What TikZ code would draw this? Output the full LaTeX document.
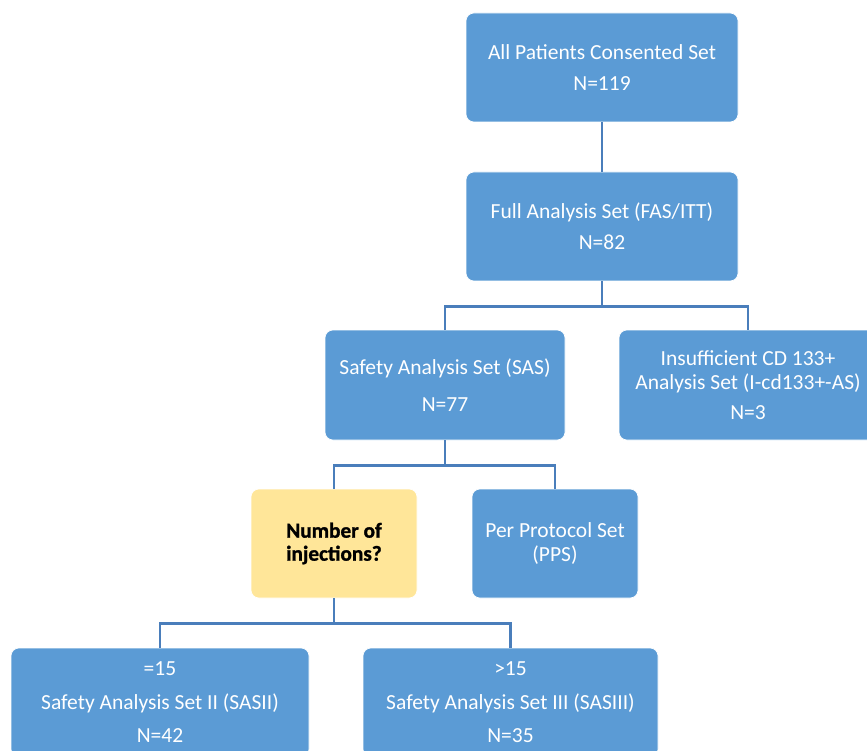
\documentclass[tikz,border=0pt]{standalone}
\usepackage{fontspec}
\setmainfont{Carlito}
\newfontfamily\heavyfont{Carlito}[UprightFont=*-Bold, FakeBold=1.2]
\definecolor{boxblue}{HTML}{5B9BD5}
\definecolor{boxyellow}{HTML}{FFE699}
\definecolor{linkblue}{HTML}{4A7EBB}
\begin{document}
\begin{tikzpicture}[x=1pt,y=-1pt,
  setbox/.style={rounded corners=8pt, fill=boxblue, draw=white, line width=0.6pt,
    text=white, align=center, inner sep=0pt, font=\fontsize{21.5}{24}\selectfont},
  askbox/.style={setbox, fill=boxyellow, text=black, font=\heavyfont\fontsize{21.3}{23}\selectfont},
  link/.style={draw=linkblue, line width=2.4pt}]
\useasboundingbox (0,0) rectangle (867,751);
\clip (0,0) rectangle (867,751);
\node[setbox, minimum width=272pt, minimum height=109pt] (A) at (602,67.5)
  {All Patients Consented Set\\[7pt]N=119};
\node[setbox, minimum width=272pt, minimum height=109pt] (B) at (602,226.5)
  {Full Analysis Set (FAS/ITT)\\[7pt]N=82};
\node[setbox, minimum width=240pt, minimum height=110pt] (SAS) at (445,385)
  {Safety Analysis Set (SAS)\\[13pt]N=77};
\node[setbox, minimum width=258pt, minimum height=110pt] (I) at (748,385)
  {Insufficient CD 133+\\Analysis Set (I-cd133+-AS)\\[6pt]N=3};
\node[askbox, minimum width=166pt, minimum height=109pt] (Q) at (334,543.5)
  {Number of\\injections?};
\node[setbox, minimum width=166pt, minimum height=109pt] (P) at (555,543.5)
  {Per Protocol Set\\(PPS)};
\node[setbox, minimum width=298pt, minimum height=109pt] (S2) at (160,702.5)
  {=15\\[10pt]Safety Analysis Set II (SASII)\\[9pt]N=42};
\node[setbox, minimum width=295pt, minimum height=109pt] (S3) at (510.5,702.5)
  {>15\\[10pt]Safety Analysis Set III (SASIII)\\[9pt]N=35};
\draw[link] (A.south) -- (B.north);
\draw[link] (B.south) -- ++(0,25) -| (SAS.north);
\draw[link] (B.south) -- ++(0,25) -| (I.north);
\draw[link] (SAS.south) -- ++(0,25) -| (Q.north);
\draw[link] (SAS.south) -- ++(0,25) -| (P.north);
\draw[link] (Q.south) -- ++(0,25) -| (S2.north);
\draw[link] (Q.south) -- ++(0,25) -| (S3.north);
\end{tikzpicture}
\end{document}
